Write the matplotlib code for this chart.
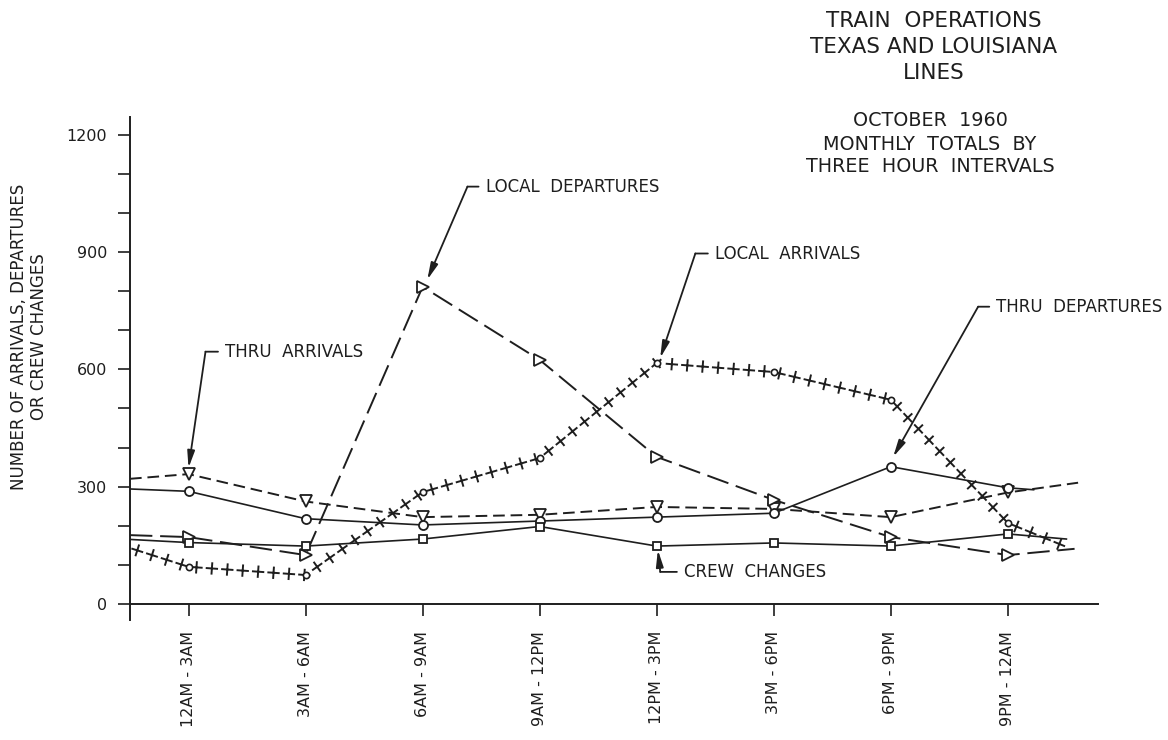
import matplotlib
matplotlib.use('Agg')
import matplotlib.pyplot as plt
import matplotlib.patheffects as pe
from matplotlib.ticker import MultipleLocator

plt.rcParams['font.family'] = ['DejaVu Sans']

ink = '#1e1e1e'

intervals = ['12AM - 3AM', '3AM - 6AM', '6AM - 9AM', '9AM - 12PM',
             '12PM - 3PM', '3PM - 6PM', '6PM - 9PM', '9PM - 12AM']

# each series: value where the curve leaves the axis, the 8 interval values,
# then the value where the curve stops on the right
thru_arr = [320, 332, 262, 222, 228, 248, 243, 222, 285, 310]
thru_dep = [294, 288, 218, 202, 212, 222, 232, 351, 297, 292]
local_dep = [176, 171, 125, 811, 624, 376, 266, 171, 125, 141]
local_arr = [143, 95, 74, 286, 373, 616, 593, 522, 207, 146]
crew = [165, 157, 148, 166, 198, 148, 156, 148, 179, 166]

# x where each curve stops on the right
end_x = {'thru_arr': 7.6, 'thru_dep': 7.22, 'local_dep': 7.57,
         'local_arr': 7.5, 'crew': 7.5}

def xs(key):
    return [-0.5] + list(range(len(intervals))) + [end_x[key]]

fig = plt.figure(figsize=(11.68, 7.40), dpi=100)
ax = fig.add_axes([130/1168, 1 - 620/740, (1098 - 130)/1168, (620 - 117)/740])

pts = slice(1, 9)

# thru arrivals: short dashes, open down triangles
ax.plot(xs('thru_arr'), thru_arr, color=ink, lw=1.4, dashes=(6, 3),
        marker='v', ms=8, mfc='white', mec=ink, mew=1.3, markevery=pts)
# thru departures: solid, open circles
ax.plot(xs('thru_dep'), thru_dep, color=ink, lw=1.2,
        marker='o', ms=6.5, mfc='white', mec=ink, mew=1.3, markevery=pts)
# local departures: long dashes, open right triangles
ax.plot(xs('local_dep'), local_dep, color=ink, lw=1.4, dashes=(11.5, 4),
        marker='>', ms=8, mfc='white', mec=ink, mew=1.3, markevery=pts)
# crew changes: solid, open squares
ax.plot(xs('crew'), crew, color=ink, lw=1.2,
        marker='s', ms=6, mfc='white', mec=ink, mew=1.3, markevery=pts)
# local arrivals: chain of plus signs, small circles at the values
plus = [pe.TickedStroke(spacing=11, angle=a, length=0.34) for a in (0, 90, 180, -90)]
ax.plot(xs('local_arr'), local_arr, color=ink, lw=1.4, path_effects=plus)
ax.plot(xs('local_arr')[pts], local_arr[pts], 'o', ms=4.5, mfc='white',
        mec=ink, mew=1.2)

# callouts: label, arrow tip, bend point, text offset (points)
notes = [('THRU  ARRIVALS', (0.0, 348), (0.145, 645), 14),
         ('LOCAL  DEPARTURES', (2.04, 829), (2.383, 1067), 13),
         ('LOCAL  ARRIVALS', (4.03, 629), (4.33, 896), 14),
         ('THRU  DEPARTURES', (6.02, 376), (6.746, 760), 13),
         ('CREW  CHANGES', (4.01, 138), (4.03, 82), 17)]
for label, tip, bend, off in notes:
    ax.annotate('', xy=tip, xytext=bend, annotation_clip=False,
                arrowprops=dict(arrowstyle='-|>,head_length=1.0,head_width=0.22',
                                color=ink, lw=1.3, shrinkA=0, shrinkB=0))
    ax.annotate(label, xy=bend, xytext=(off, 0), textcoords='offset points',
                ha='left', va='center', fontsize=12, color=ink,
                annotation_clip=False,
                arrowprops=dict(arrowstyle='-', color=ink, lw=1.3,
                                shrinkA=3, shrinkB=0, relpos=(0, 0.5)))

ax.set_xlim(-0.5, 7.77)
ax.set_ylim(-41, 1245)
ax.set_xticks(range(len(intervals)))
ax.set_xticklabels(intervals)
ax.yaxis.set_major_locator(MultipleLocator(300))
ax.yaxis.set_minor_locator(MultipleLocator(100))
ax.tick_params(axis='y', which='both', length=8.5, width=1.2, pad=8,
               labelsize=11.5, colors=ink)
ax.tick_params(axis='x', length=8.5, width=1.2, pad=11, labelsize=11.5,
               colors=ink, labelrotation=90)

for s in ['top', 'right']:
    ax.spines[s].set_visible(False)
ax.spines['bottom'].set_position(('data', 0))
for s in ['left', 'bottom']:
    ax.spines[s].set_color(ink)
    ax.spines[s].set_linewidth(1.4)

fig.text(29/1168, 1 - 337/740, 'NUMBER OF ARRIVALS, DEPARTURES\nOR CREW CHANGES',
         rotation=90, ha='center', va='center', multialignment='center',
         fontsize=12, color=ink, linespacing=1.2)

title_lines = ['TRAIN  OPERATIONS', 'TEXAS AND LOUISIANA', 'LINES']
sub_lines = ['OCTOBER  1960', 'MONTHLY  TOTALS  BY', 'THREE  HOUR  INTERVALS']
for i, t in enumerate(title_lines):
    fig.text(934/1168, 1 - (21 + 26*i)/740, t, ha='center', va='center',
             fontsize=15.5, color=ink)
for i, t in enumerate(sub_lines):
    fig.text(930/1168, 1 - (121 + 23*i)/740, t, ha='center', va='center',
             fontsize=13.8, color=ink)

fig.savefig('out.png', dpi=100, facecolor='white')
